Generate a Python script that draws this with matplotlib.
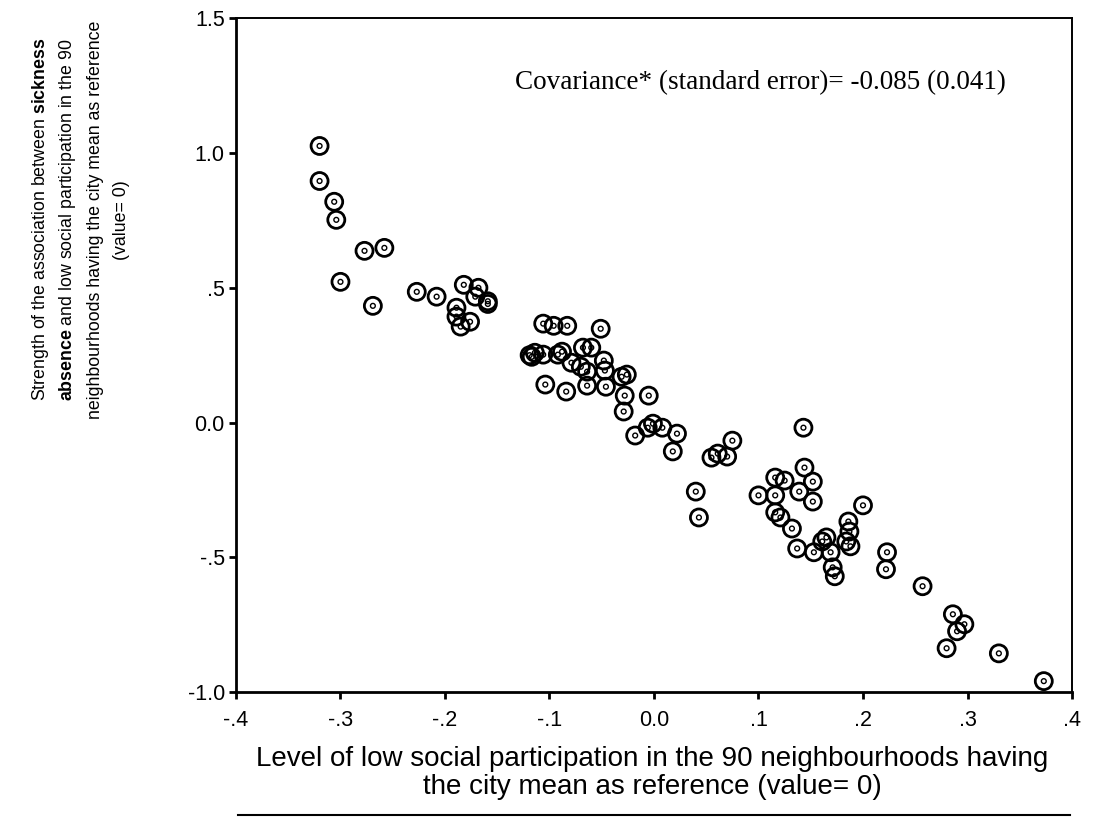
import numpy as np
import matplotlib
matplotlib.use("Agg")
import matplotlib.pyplot as plt
from matplotlib.lines import Line2D

# level of low social participation (x) vs strength of association (y), 90 neighbourhoods
x_vals = [-0.320, -0.320, -0.306, -0.304, -0.300, -0.277, -0.258, -0.269, -0.227, -0.208,
          -0.182, -0.168, -0.171, -0.159, -0.159, -0.189, -0.189, -0.185, -0.176, -0.106,
          -0.096, -0.083, -0.051, -0.117, -0.114, -0.106, -0.092, -0.088, -0.079, -0.070,
          -0.068, -0.060, -0.064, -0.048, -0.047, -0.104, -0.084, -0.064, -0.046, -0.031,
          -0.026, -0.028, -0.029, -0.005, -0.018, -0.006, -0.001, 0.008, 0.022, 0.018,
          0.075, 0.055, 0.061, 0.070, 0.040, 0.043, 0.143, 0.144, 0.116, 0.125,
          0.152, 0.100, 0.116, 0.139, 0.152, 0.116, 0.121, 0.132, 0.137, 0.153,
          0.161, 0.165, 0.169, 0.171, 0.173, 0.200, 0.186, 0.187, 0.184, 0.188,
          0.223, 0.222, 0.257, 0.286, 0.297, 0.290, 0.280, 0.330, 0.373, -0.119]
y_vals = [1.026, 0.896, 0.819, 0.752, 0.522, 0.637, 0.648, 0.433, 0.485, 0.467,
          0.511, 0.500, 0.467, 0.450, 0.440, 0.426, 0.393, 0.356, 0.374, 0.367,
          0.359, 0.359, 0.348, 0.244, 0.259, 0.252, 0.252, 0.263, 0.222, 0.207,
          0.278, 0.278, 0.189, 0.230, 0.193, 0.141, 0.115, 0.137, 0.133, 0.170,
          0.178, 0.100, 0.041, 0.100, -0.048, -0.019, -0.004, -0.019, -0.041, -0.107,
          -0.067, -0.130, -0.115, -0.126, -0.256, -0.352, -0.019, -0.167, -0.204, -0.215,
          -0.219, -0.270, -0.270, -0.256, -0.293, -0.333, -0.352, -0.393, -0.467, -0.481,
          -0.441, -0.426, -0.481, -0.537, -0.570, -0.307, -0.367, -0.404, -0.441, -0.459,
          -0.481, -0.544, -0.607, -0.711, -0.748, -0.774, -0.837, -0.856, -0.959, 0.250]

x_ticks = [-0.4, -0.3, -0.2, -0.1, 0.0, 0.1, 0.2, 0.3, 0.4]
x_ticklabels = ['-.4', '-.3', '-.2', '-.1', '0.0', '.1', '.2', '.3', '.4']
y_ticks = [-1.0, -0.5, 0.0, 0.5, 1.0, 1.5]
y_ticklabels = ['-1.0', '-.5', '0.0', '.5', '1.0', '1.5']

cov_text = 'Covariance* (standard error)= -0.085 (0.041)'

plt.rcParams['font.family'] = ['Liberation Sans', 'DejaVu Sans']
plt.rcParams['mathtext.fontset'] = 'custom'
plt.rcParams['mathtext.rm'] = 'Liberation Sans'
plt.rcParams['mathtext.bf'] = 'Liberation Sans:bold'

fig = plt.figure(figsize=(10.95, 8.26), dpi=100)
ax = fig.add_axes([0.2155, 0.162, 0.7635, 0.816])

ax.scatter(x_vals, y_vals, s=150, facecolors='none', edgecolors='black', linewidths=2.0, zorder=3)
ax.scatter(x_vals, y_vals, s=12, facecolors='none', edgecolors='black', linewidths=1.0, zorder=4)

ax.set_xlim(-0.4, 0.4)
ax.set_ylim(-1.0, 1.5)
ax.set_xticks(x_ticks)
ax.set_xticklabels(x_ticklabels)
ax.set_yticks(y_ticks)
ax.set_yticklabels(y_ticklabels)
ax.tick_params(direction='out', length=5, width=2, labelsize=15.5)
ax.tick_params(axis='x', pad=8)
ax.tick_params(axis='y', pad=3)

for side in ['left', 'bottom']:
    ax.spines[side].set_linewidth(2.0)
for side in ['top', 'right']:
    ax.spines[side].set_linewidth(1.4)

ax.text(-0.133, 1.26, cov_text, fontsize=19.5, family=['Liberation Serif'],
        ha='left', va='center')

# y label, 4 rotated lines with bold words
ylines = [r'Strength of the association between $\mathbf{sickness}$',
          r'$\mathbf{absence}$ and low social participation in the 90',
          'neighbourhoods having the city mean as reference',
          '(value= 0)']
xpos = [0.037, 0.062, 0.087, 0.111]
for xp, t in zip(xpos, ylines):
    fig.text(xp, 0.734, t, rotation=90, ha='center', va='center', fontsize=12.8)

fig.text(0.596, 0.064, 'Level of low social participation in the 90 neighbourhoods having\nthe city mean as reference (value= 0)',
         ha='center', va='center', fontsize=20, linespacing=1.1)
fig.add_artist(Line2D([0.217, 0.977], [0.013, 0.013], color='black', lw=1.5))

fig.savefig('out.png', dpi=100)
